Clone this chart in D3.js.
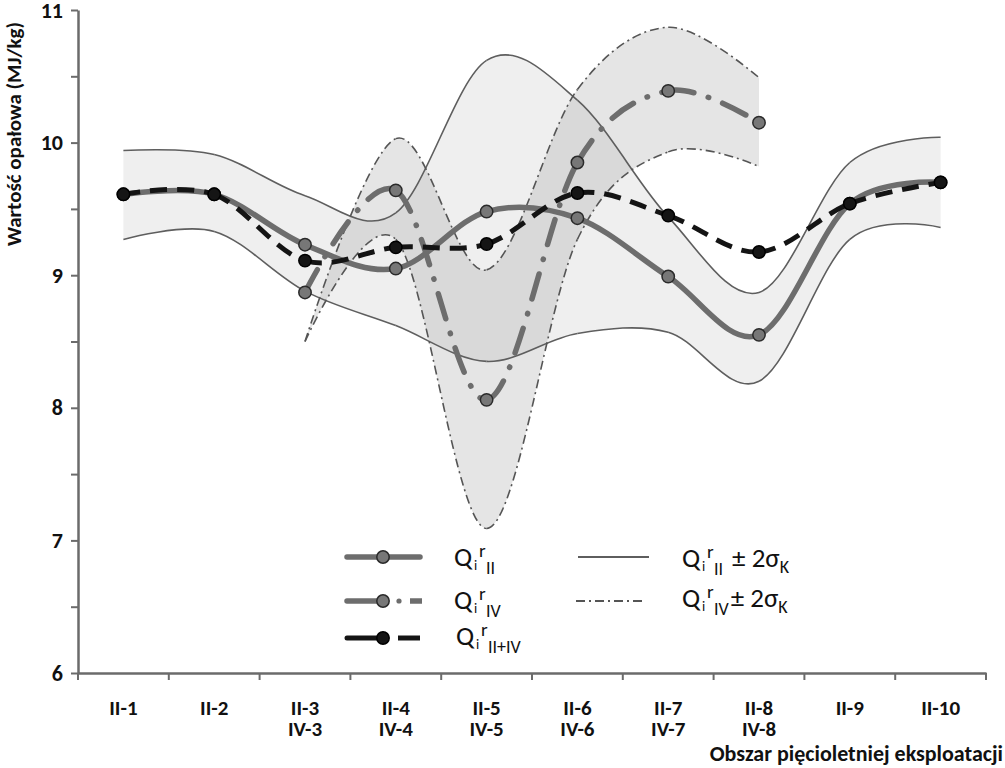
<!DOCTYPE html>
<html><head><meta charset="utf-8">
<script src="https://cdn.jsdelivr.net/npm/d3@7"></script>
<style>
body{margin:0;background:#fff}
svg{display:block}
text{font-family:Carlito,"Liberation Sans Narrow",Lato,sans-serif}
</style>
</head><body>
<svg id="c" width="1005" height="768"></svg>
<script>
// ---- data ----
const categories = ["II-1","II-2","II-3","II-4","II-5","II-6","II-7","II-8","II-9","II-10"];
const categories2 = ["","","IV-3","IV-4","IV-5","IV-6","IV-7","IV-8","",""];
const qII   = [9.61, 9.61, 9.23, 9.05, 9.48, 9.43, 8.99, 8.55, 9.54, 9.70];
const qIV   = [null, null, 8.87, 9.64, 8.06, 9.85, 10.39, 10.15, null, null];
const qIIIV = [9.61, 9.61, 9.11, 9.21, 9.235, 9.62, 9.45, 9.175, 9.54, 9.70];
const bandIIUpper = [9.94, 9.91, 9.60, 9.47, 10.62, 10.32, 9.44, 8.87, 9.85, 10.04];
const bandIILower = [9.27, 9.33, 8.88, 8.62, 8.35, 8.56, 8.57, 8.20, 9.27, 9.36];
const bandIVUpper = [null, null, 8.50, 10.03, 9.04, 10.40, 10.87, 10.49, null, null];
const bandIVLower = [null, null, 8.50, 9.27, 7.09, 9.27, 9.93, 9.82, null, null];
const yTicks = [6, 6.5, 7, 7.5, 8, 8.5, 9, 9.5, 10, 10.5, 11];
const yTitle = "Wartość opałowa (MJ/kg)";
const xTitle = "Obszar pięcioletniej eksploatacji";

// ---- scales ----
const svg = d3.select("#c");
const x = d3.scaleBand().domain(categories).range([78, 986]).padding(0);
const cx = c => x(c) + x.bandwidth() / 2;
const y = d3.scaleLinear().domain([6, 11]).range([673, 10]);
const curve = d3.curveCardinal.tension(0);
const axisColor = "#6b6b6b";

// ---- bands ----
function bandData(lo, hi) {
  return categories.map((c, i) => ({c, lo: lo[i], hi: hi[i]})).filter(d => d.lo != null);
}
const area = d3.area().x(d => cx(d.c)).y0(d => y(d.lo)).y1(d => y(d.hi)).curve(curve);
svg.append("path").datum(bandData(bandIILower, bandIIUpper)).attr("d", area).attr("fill", "#efefef");
svg.append("path").datum(bandData(bandIVLower, bandIVUpper)).attr("d", area).attr("fill", "rgba(150,150,150,0.25)");

// per-segment paths (dash pattern restarts at each point)
function segPaths(values) {
  const pts = categories.map((c, i) => values[i] == null ? null : [cx(c), y(values[i])]).filter(Boolean);
  const segs = []; let cur;
  const ctx = {
    moveTo(a, b) { cur = [a, b]; },
    lineTo(a, b) { segs.push(`M${cur[0]},${cur[1]}L${a},${b}`); cur = [a, b]; },
    bezierCurveTo(a, b, c, d, e, f) { segs.push(`M${cur[0]},${cur[1]}C${a},${b},${c},${d},${e},${f}`); cur = [e, f]; },
    closePath() {}
  };
  const k = curve(ctx); k.lineStart(); pts.forEach(p => k.point(p[0], p[1])); k.lineEnd();
  return segs;
}
function drawSeries(values, style) {
  const g = svg.append("g");
  g.selectAll("path").data(segPaths(values)).join("path")
    .attr("d", d => d).attr("fill", "none")
    .attr("stroke", style.stroke).attr("stroke-width", style.width)
    .attr("stroke-dasharray", style.dash || null)
    .attr("stroke-linecap", style.cap || "butt");
  return g;
}

// band boundary lines
drawSeries(bandIIUpper, {stroke: "#5e5e5e", width: 1.6});
drawSeries(bandIILower, {stroke: "#5e5e5e", width: 1.6});
drawSeries(bandIVUpper, {stroke: "#555", width: 1.6, dash: "9,4,2,4"});
drawSeries(bandIVLower, {stroke: "#555", width: 1.6, dash: "9,4,2,4"});

// ---- axes ----
const fontStack = 'Carlito,"Liberation Sans Narrow",Lato,sans-serif';
const yAxis = d3.axisLeft(y).tickValues(yTicks).tickSize(7).tickSizeOuter(0).tickPadding(8)
  .tickFormat(d => Number.isInteger(d) ? d : "");
const gy = svg.append("g").attr("transform", "translate(78,0)").call(yAxis);
gy.select(".domain").attr("stroke", axisColor).attr("stroke-width", 2.5);
gy.selectAll(".tick line").attr("stroke", axisColor).attr("stroke-width", 2);
gy.selectAll(".tick text").attr("font-size", 22).attr("font-weight", "bold").attr("fill", "#111")
  .style("font-family", fontStack);

const xAxis = d3.axisBottom(x).tickSize(0).tickSizeOuter(0).tickFormat("");
const gx = svg.append("g").attr("transform", "translate(0,673)").call(xAxis);
gx.select(".domain").attr("stroke", axisColor).attr("stroke-width", 2.5);
const bounds = categories.map(c => x(c)).concat([x.range()[1]]);
gx.selectAll("line.bound").data(bounds).join("line").attr("class", "bound")
  .attr("x1", d => d).attr("x2", d => d).attr("y1", 0).attr("y2", 7)
  .attr("stroke", axisColor).attr("stroke-width", 2);
const lab = svg.append("g");
categories.forEach((c, i) => {
  lab.append("text").attr("x", cx(c)).attr("y", 715).attr("text-anchor", "middle")
    .attr("font-size", 21).attr("font-weight", "bold").attr("fill", "#111").text(c);
  if (categories2[i]) lab.append("text").attr("x", cx(c)).attr("y", 736).attr("text-anchor", "middle")
    .attr("font-size", 21).attr("font-weight", "bold").attr("fill", "#111").text(categories2[i]);
});

svg.append("text").attr("transform", "translate(21,134) rotate(-90)").attr("text-anchor", "middle")
  .attr("font-size", 21).attr("font-weight", "bold").attr("fill", "#111").text(yTitle);
svg.append("text").attr("x", 1003).attr("y", 761).attr("text-anchor", "end")
  .attr("font-size", 22).attr("font-weight", "bold").attr("fill", "#111").text(xTitle);

// ---- series ----
function drawMarkers(values, fill, stroke) {
  svg.append("g").selectAll("circle")
    .data(categories.map((c, i) => ({c, v: values[i]})).filter(d => d.v != null))
    .join("circle").attr("cx", d => cx(d.c)).attr("cy", d => y(d.v)).attr("r", 6.2)
    .attr("fill", fill).attr("stroke", stroke).attr("stroke-width", 1.5);
}
drawSeries(qII, {stroke: "#6d6d6d", width: 5.5, cap: "round"});
drawMarkers(qII, "#777", "#2a2a2a");
drawSeries(qIV, {stroke: "#6d6d6d", width: 5.5, dash: "26,15,0.5,15", cap: "round"});
drawMarkers(qIV, "#777", "#2a2a2a");
drawSeries(qIIIV, {stroke: "#141414", width: 5, dash: "17,10"});
drawMarkers(qIIIV, "#151515", "#000");

// ---- legend ----
const lg = svg.append("g");
// row 1: Q II
lg.append("line").attr("x1", 347).attr("x2", 420).attr("y1", 557).attr("y2", 557)
  .attr("stroke", "#6d6d6d").attr("stroke-width", 5.5).attr("stroke-linecap", "round");
lg.append("circle").attr("cx", 383).attr("cy", 557).attr("r", 6.2).attr("fill", "#777").attr("stroke", "#2a2a2a").attr("stroke-width", 1.5);
// row 2: Q IV
lg.append("line").attr("x1", 347).attr("x2", 383).attr("y1", 601).attr("y2", 601)
  .attr("stroke", "#6d6d6d").attr("stroke-width", 5.5).attr("stroke-linecap", "round");
lg.append("circle").attr("cx", 399).attr("cy", 601).attr("r", 2.6).attr("fill", "#6d6d6d");
lg.append("line").attr("x1", 410).attr("x2", 422).attr("y1", 601).attr("y2", 601)
  .attr("stroke", "#6d6d6d").attr("stroke-width", 5.5);
lg.append("circle").attr("cx", 383).attr("cy", 601).attr("r", 6.2).attr("fill", "#777").attr("stroke", "#2a2a2a").attr("stroke-width", 1.5);
// row 3: Q II+IV
lg.append("line").attr("x1", 347).attr("x2", 383).attr("y1", 638).attr("y2", 638)
  .attr("stroke", "#141414").attr("stroke-width", 5).attr("stroke-linecap", "round");
lg.append("line").attr("x1", 398).attr("x2", 420).attr("y1", 638).attr("y2", 638)
  .attr("stroke", "#141414").attr("stroke-width", 5);
lg.append("circle").attr("cx", 383).attr("cy", 638).attr("r", 6.2).attr("fill", "#151515").attr("stroke", "#000").attr("stroke-width", 1.5);
// right column
lg.append("line").attr("x1", 578).attr("x2", 649).attr("y1", 557).attr("y2", 557)
  .attr("stroke", "#5e5e5e").attr("stroke-width", 1.8);
lg.append("line").attr("x1", 576).attr("x2", 646).attr("y1", 601).attr("y2", 601)
  .attr("stroke", "#555").attr("stroke-width", 1.8).attr("stroke-dasharray", "9,4,2,4");

function qLabel(x0, base, sub, tail) {
  const g = lg.append("g").attr("fill", "#111");
  g.append("text").attr("x", x0).attr("y", base).attr("font-size", 27).text("Q");
  g.append("text").attr("x", x0 + 20).attr("y", base + 4).attr("font-size", 14).text("i");
  g.append("text").attr("x", x0 + 25).attr("y", base - 9).attr("font-size", 19).text("r");
  const s = g.append("text").attr("x", x0 + 32).attr("y", base + 8).attr("font-size", 18).text(sub);
  if (tail) {
    const sx = x0 + 32 + s.node().getComputedTextLength() + (sub === "II" ? 9 : 2);
    const t = g.append("text").attr("x", sx).attr("y", base).attr("font-size", 27).text("± 2σ");
    g.append("text").attr("x", sx + t.node().getComputedTextLength()).attr("y", base + 6)
      .attr("font-size", 18).text("K");
  }
}
qLabel(454, 566, "II", false);
qLabel(454, 609, "IV", false);
qLabel(456, 645, "II+IV", false);
qLabel(682, 567, "II", true);
qLabel(682, 607, "IV", true);
</script>
</body></html>
